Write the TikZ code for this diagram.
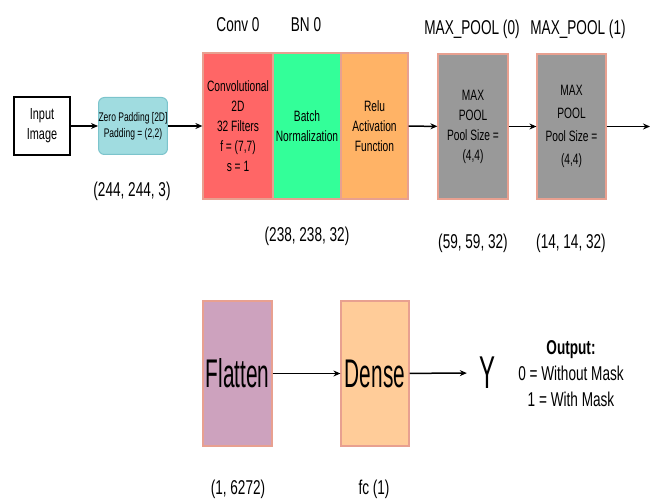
\documentclass[tikz,border=0pt]{standalone}
\usepackage{fontspec}
\setmainfont{Liberation Sans}
\newfontfamily\narrowfont[FakeStretch=0.68]{Liberation Sans}
\newfontfamily\bignarrow[FakeStretch=0.52]{Liberation Sans}
\usetikzlibrary{arrows.meta}
\usetikzlibrary{positioning}

\definecolor{edgesalmon}{RGB}{232,160,144}
\definecolor{convred}{RGB}{255,102,102}
\definecolor{bngreen}{RGB}{51,255,153}
\definecolor{reluorange}{RGB}{255,179,102}
\definecolor{poolgrey}{RGB}{153,153,153}
\definecolor{flatpurple}{RGB}{205,162,190}
\definecolor{densepeach}{RGB}{255,204,153}
\definecolor{padcyan}{RGB}{160,220,224}
\definecolor{padedge}{RGB}{124,196,204}

\tikzset{
  layerbox/.style={draw=edgesalmon, line width=1.2pt, minimum width=#1, minimum height=146pt, inner sep=0pt, align=center, font=\narrowfont\fontsize{15}{20}\selectfont},
  layerbox/.default=69pt,
  caption/.style={font=\narrowfont\fontsize{20}{24}\selectfont, inner sep=0pt},
  flow/.style={-{Stealth[length=7pt,width=6pt]}, line width=1.5pt, black},
}

\begin{document}
\begin{tikzpicture}[x=1pt,y=-1pt]
\useasboundingbox (0,0) rectangle (656,500);

%Shape: Input
\node[draw=black, line width=1.2pt, minimum width=56pt, minimum height=58pt, inner sep=0pt, align=center, font=\narrowfont\fontsize{16}{20}\selectfont] (input) at (42,126) {Input\\Image};
%Shape: Zero padding
\node[draw=padedge, fill=padcyan, rounded corners=6pt, line width=1pt, minimum width=68pt, minimum height=57pt, inner sep=0pt, align=center, font=\narrowfont\fontsize{12.5}{16}\selectfont] (pad) at (133,126) {Zero Padding [2D]\\Padding = (2,2)};

%Conv block
\node[layerbox=70pt, fill=convred] (conv) at (238,126) {Convolutional\\2D\\32 Filters\\f = (7,7)\\s = 1};
\node[layerbox=68pt, fill=bngreen] (bn) at (307,126) {Batch\\Normalization};
\node[layerbox=67pt, fill=reluorange] (relu) at (374.5,126) {Relu\\Activation\\Function};

%Pooling
\node[layerbox=70pt, fill=poolgrey, minimum height=145pt] (pool0) at (473,126.5) {MAX\\POOL\\Pool Size =\\(4,4)};
\node[layerbox=69pt, fill=poolgrey, minimum height=145pt, font=\narrowfont\fontsize{15}{23}\selectfont] (pool1) at (571.5,126.5) {MAX\\POOL\\Pool Size =\\(4,4)};
\coordinate (out) at (650,126.5);

%Second row
\node[layerbox=69pt, fill=flatpurple, minimum height=145pt, font=\bignarrow\fontsize{40}{44}\selectfont] (flatten) at (237.5,373.5) {Flatten};
\node[layerbox=68pt, fill=densepeach, minimum height=145pt, font=\bignarrow\fontsize{40}{44}\selectfont] (dense) at (375,373.5) {Dense};
\node[font=\bignarrow\fontsize{46}{50}\selectfont, inner ysep=0pt, inner xsep=12pt] (y) at (487,373) {Y};
\node[font=\narrowfont\fontsize{20}{26}\selectfont, align=center, inner sep=0pt] (result) at (571,374) {\textbf{Output:}\\0 = Without Mask\\1 = With Mask};

%Labels
\node[caption] (convlbl) at (238,25) {Conv 0};
\node[caption] (bnlbl) at (306,25) {BN 0};
\node[caption] (pool0lbl) at (472,29) {MAX\_POOL (0)};
\node[caption] (pool1lbl) at (578,29) {MAX\_POOL (1)};
\node[caption] (padlbl) at (132,191) {(244, 244, 3)};
\node[caption] (convdim) at (307,236) {(238, 238, 32)};
\node[caption] (pool0dim) at (473,243) {(59, 59, 32)};
\node[caption] (pool1dim) at (571,243) {(14, 14, 32)};
\node[caption] (flatdim) at (238,489) {(1, 6272)};
\node[caption] (densedim) at (374,489) {fc (1)};

%Connectors
\draw[flow] (input) -- (pad);
\draw[flow] (pad) -- (conv);
\draw[flow] (relu) -- (pool0);
\draw[flow] (pool0) -- (pool1);
\draw[flow] (pool1) -- (out);
\draw[flow] (flatten) -- (dense);
\draw[flow] (dense) -- (y);

\end{tikzpicture}
\end{document}
